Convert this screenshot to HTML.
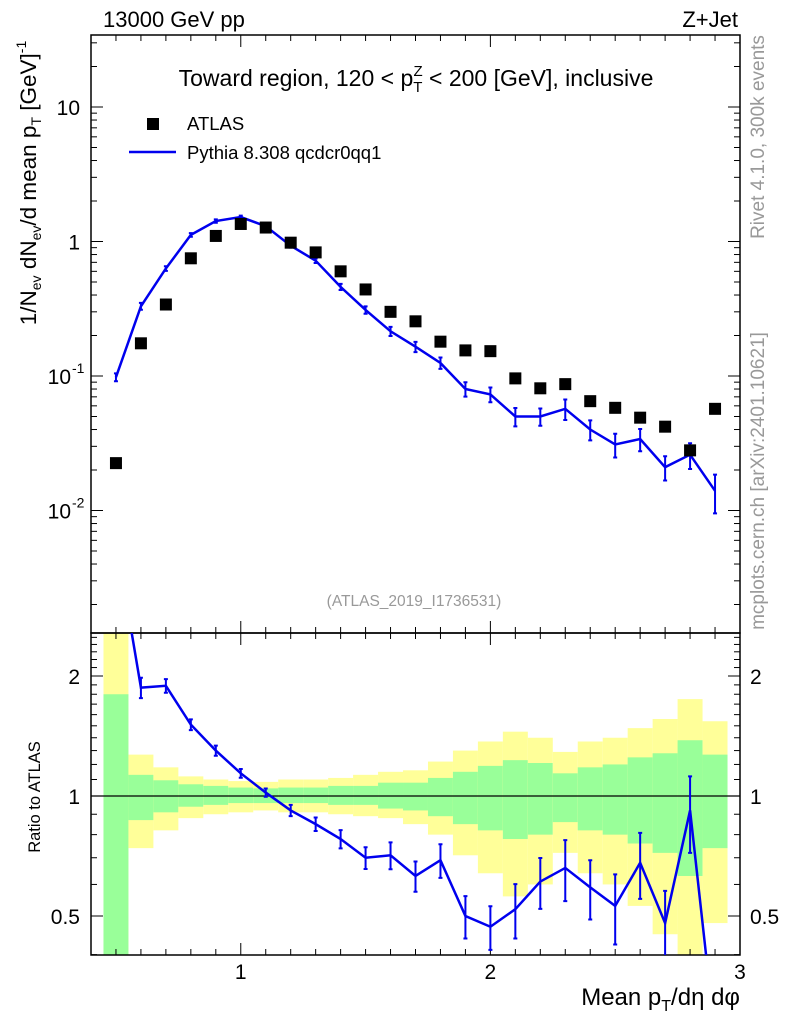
<!DOCTYPE html>
<html><head><meta charset="utf-8"><style>
html,body{margin:0;padding:0;background:#fff;overflow:hidden;width:786px;height:1024px;}
svg{display:block;font-family:"Liberation Sans",sans-serif;}
</style></head><body>
<svg id="c" width="786" height="1024" viewBox="0 0 786 1024">
<g id="bands"></g>
<g id="axes"></g>
<g id="series"></g>
<text x="103" y="27" font-size="22">13000 GeV pp</text>
<text x="738" y="27" font-size="22" text-anchor="end">Z+Jet</text>
<text x="416" y="86" font-size="23" text-anchor="middle">Toward region, 120 &lt; p<tspan font-size="15" dy="6">T</tspan><tspan font-size="15" dx="-9" dy="-16">Z</tspan><tspan dy="10"> &lt; 200 [GeV], inclusive</tspan></text>
<rect x="147" y="118" width="12" height="12" fill="#000"/>
<text x="187" y="130" font-size="18.5">ATLAS</text>
<line x1="129" y1="152" x2="176" y2="152" stroke="#0000ee" stroke-width="2.5"/>
<text x="187" y="159" font-size="18.5">Pythia 8.308 qcdcr0qq1</text>
<text x="414" y="606" font-size="15.5" fill="#999" text-anchor="middle">(ATLAS_2019_I1736531)</text>
<text transform="translate(764,137) rotate(-90)" font-size="19" fill="#999" text-anchor="middle">Rivet 4.1.0, 300k events</text>
<text transform="translate(764,481) rotate(-90)" font-size="19" fill="#999" text-anchor="middle">mcplots.cern.ch [arXiv:2401.10621]</text>
<text transform="translate(36,183) rotate(-90)" font-size="22.5" text-anchor="middle">1/N<tspan font-size="14" dy="5">ev</tspan><tspan dy="-5"> dN</tspan><tspan font-size="14" dy="5">ev</tspan><tspan dy="-5">/d mean p</tspan><tspan font-size="14" dy="5">T</tspan><tspan dy="-5"> [GeV]</tspan><tspan font-size="14" dy="-10">-1</tspan></text>
<text transform="translate(40,797) rotate(-90)" font-size="16.5" text-anchor="middle">Ratio to ATLAS</text>
<text x="740" y="1005" font-size="24" text-anchor="end">Mean p<tspan font-size="16" dy="6">T</tspan><tspan dy="-6">/dη dφ</tspan></text>
</svg>
<script>
const xCenters=[0.5,0.6,0.7,0.8,0.9,1.0,1.1,1.2,1.3,1.4,1.5,1.6,1.7,1.8,1.9,2.0,2.1,2.2,2.3,2.4,2.5,2.6,2.7,2.8,2.9];
const atlasVals=[0.0225,0.175,0.34,0.75,1.1,1.35,1.27,0.98,0.83,0.6,0.44,0.30,0.255,0.18,0.155,0.153,0.096,0.081,0.087,0.065,0.058,0.049,0.042,0.028,0.057];
const pythiaVals=[0.098,0.33,0.63,1.12,1.42,1.52,1.3,0.93,0.72,0.46,0.31,0.215,0.165,0.125,0.08,0.073,0.05,0.05,0.057,0.04,0.031,0.034,0.021,0.026,0.014];
const ratioVals=[4.4,1.87,1.89,1.51,1.30,1.14,1.02,0.92,0.85,0.78,0.70,0.71,0.63,0.69,0.50,0.47,0.52,0.61,0.66,0.59,0.53,0.68,0.48,0.92,0.25];
const ratioErrs=[0.3,0.11,0.074,0.047,0.038,0.029,0.024,0.030,0.033,0.041,0.044,0.055,0.055,0.067,0.061,0.059,0.081,0.089,0.115,0.10,0.106,0.128,0.098,0.2,0.08];
const yellowUp=[3.0,1.27,1.18,1.12,1.10,1.09,1.085,1.10,1.10,1.11,1.13,1.15,1.16,1.22,1.30,1.37,1.45,1.40,1.29,1.37,1.40,1.48,1.56,1.75,1.54];
const greenUp=[1.80,1.13,1.095,1.07,1.06,1.05,1.045,1.05,1.05,1.06,1.06,1.08,1.08,1.11,1.15,1.19,1.23,1.21,1.14,1.18,1.20,1.25,1.28,1.38,1.27];
const greenDn=[0.3,0.87,0.91,0.94,0.95,0.96,0.96,0.96,0.96,0.95,0.95,0.93,0.92,0.89,0.85,0.82,0.78,0.80,0.86,0.82,0.80,0.76,0.72,0.63,0.74];
const yellowDn=[0.3,0.74,0.82,0.88,0.90,0.91,0.92,0.91,0.91,0.90,0.89,0.88,0.85,0.80,0.71,0.64,0.56,0.60,0.72,0.64,0.60,0.53,0.45,0.3,0.48];
const binWidth=0.1;
const NS='http://www.w3.org/2000/svg';
const L=91,R=740,T1=35,B1=633,T2=633,B2=955;
const X=v=>L+(v-0.4)*(R-L)/2.6;
const Y1=v=>107-(Math.log10(v)-1)*134.5;
const Y2=v=>Math.min(Math.max(796-Math.log2(v)*120,T2),B2);
function mk(p,tag,at){const e=document.createElementNS(NS,tag);for(const k in at)e.setAttribute(k,at[k]);p.appendChild(e);return e;}
const bands=document.getElementById('bands'),axes=document.getElementById('axes'),ser=document.getElementById('series');
xCenters.forEach((x,i)=>{
 const x0=Math.max(X(x-binWidth/2),L),x1=X(x+binWidth/2);
 let r=mk(bands,'rect',{x:x0,y:Y2(yellowUp[i]),width:x1-x0,height:Y2(yellowDn[i])-Y2(yellowUp[i]),fill:'#ffff99'});
 
 r=mk(bands,'rect',{x:x0,y:Y2(greenUp[i]),width:x1-x0,height:Y2(greenDn[i])-Y2(greenUp[i]),fill:'#99ff99'});
 
});
mk(axes,'line',{x1:L,y1:796,x2:R,y2:796,stroke:'#000','stroke-width':1.2});
mk(axes,'rect',{x:L,y:T1,width:R-L,height:B1-T1,fill:'none',stroke:'#000','stroke-width':1.5});
mk(axes,'rect',{x:L,y:T2,width:R-L,height:B2-T2,fill:'none',stroke:'#000','stroke-width':1.5});
function tk(x1,y1,x2,y2){mk(axes,'line',{x1,y1,x2,y2,stroke:'#000','stroke-width':1});}
for(let k=5;k<=29;k++){const v=k/10,x=X(v),maj=(k%10===0),len=maj?12:6;
 tk(x,B1,x,B1-len);tk(x,T1,x,T1+len);tk(x,B2,x,B2-len);tk(x,T2,x,T2+len);}
[1,2,3].forEach(v=>{const t=mk(axes,'text',{x:X(v),y:979,'font-size':21,'text-anchor':'middle'});t.textContent=v;});
for(let d=-3;d<=1;d++)for(let m=1;m<=9;m++){const v=m*Math.pow(10,d),y=Y1(v);if(y<T1||y>B1)continue;const len=m===1?12:6;tk(L,y,L+len,y);tk(R,y,R-len,y);}
[[10,'10'],[1,'1'],[0.1,'10','-1'],[0.01,'10','-2']].forEach(a=>{const t=mk(axes,'text',{x:a[2]?71:80,y:Y1(a[0])+8,'font-size':21,'text-anchor':'end'});t.textContent=a[1];
 if(a[2]){const s=mk(axes,'text',{x:72,y:Y1(a[0])-3,'font-size':14});s.textContent=a[2];}});
[0.4,0.5,0.6,0.7,0.8,0.9,1,1.1,1.2,1.3,1.4,1.5,1.6,1.7,1.8,1.9,2,2.1,2.2,2.3,2.4,2.5].forEach(v=>{const y=796-Math.log2(v)*120;if(y<T2||y>B2)return;const len=(v===1||v===2||v===0.5)?12:6;tk(L,y,L+len,y);tk(R,y,R-len,y);});
[[2,'2'],[1,'1'],[0.5,'0.5']].forEach(a=>{const y=Y2(a[0])+8;let t=mk(axes,'text',{x:80,y,'font-size':21,'text-anchor':'end'});t.textContent=a[1];
 t=mk(axes,'text',{x:750,y,'font-size':21});t.textContent=a[1];});
const B='#0000ee';
let pts=xCenters.map((x,i)=>X(x)+','+Y1(pythiaVals[i])).join(' ');
let pl=mk(ser,'polyline',{points:pts,fill:'none',stroke:B,'stroke-width':2.5});

xCenters.forEach((x,i)=>{const rel=ratioErrs[i]/ratioVals[i],v=pythiaVals[i];const ya=Y1(v*(1+rel)),yb=Y1(v*(1-rel)),cx=X(x);
 const e=mk(ser,'path',{d:`M${cx},${ya}V${yb}M${cx-2},${ya}h4M${cx-2},${yb}h4`,stroke:B,'stroke-width':2,fill:'none'});
 
 const s=mk(ser,'rect',{x:cx-6,y:Y1(atlasVals[i])-6,width:12,height:12,fill:'#000'});
 });
const cp=mk(ser,'clipPath',{id:'rc'});mk(cp,'rect',{x:L,y:T2,width:R-L,height:B2-T2});
const rg=mk(ser,'g',{'clip-path':'url(#rc)'});
const R2=v=>796-Math.log2(v)*120;
pts=xCenters.map((x,i)=>X(x)+','+R2(ratioVals[i])).join(' ');
pl=mk(rg,'polyline',{points:pts,fill:'none',stroke:B,'stroke-width':2.5});

xCenters.forEach((x,i)=>{const cx=X(x),ya=R2(ratioVals[i]+ratioErrs[i]),yb=R2(ratioVals[i]-ratioErrs[i]);
 const e=mk(rg,'path',{d:`M${cx},${ya}V${yb}M${cx-2},${ya}h4M${cx-2},${yb}h4`,stroke:B,'stroke-width':2,fill:'none'});
 });
</script>
</body></html>
